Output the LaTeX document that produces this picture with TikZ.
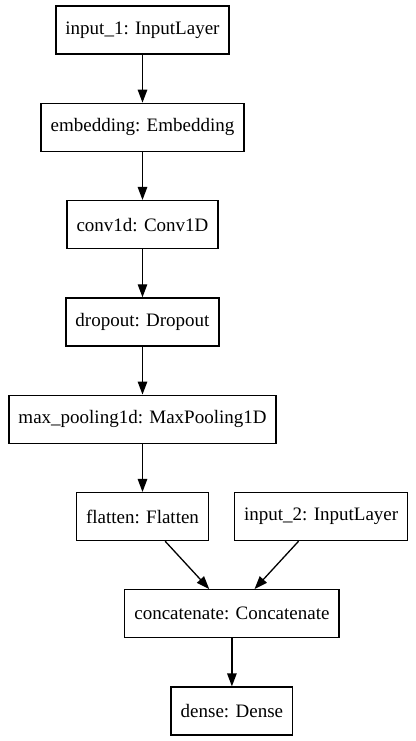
\documentclass[tikz,border=0pt]{standalone}
\usepackage{fontspec}
\setmainfont{Liberation Serif}
\usetikzlibrary{arrows.meta}
\begin{document}
\begin{tikzpicture}[x=1pt,y=-1pt,line join=miter,line width=1.3pt,>={Triangle[length=13pt,width=9.5pt]},
	layer/.style={draw,rectangle,minimum height=48pt,inner xsep=9.6pt,font=\fontsize{19}{22}\selectfont}]
			\useasboundingbox (0,0) rectangle (415,741);
			\node[layer] (in1) at (142.5,30) {input\_1: InputLayer};
			\node[layer] (emb) at (142.5,127.3) {embedding: Embedding};
			\node[layer] (conv) at (142.5,224.6) {conv1d: Conv1D};
			\node[layer] (drop) at (142.5,321.9) {dropout: Dropout};
			\node[layer] (pool) at (142.5,419.2) {max\_pooling1d: MaxPooling1D};
			\node[layer] (flat) at (142.5,516.6) {flatten: Flatten};
			\node[layer] (in2) at (321.2,516.6) {input\_2: InputLayer};
			\node[layer] (cat) at (231.9,613.7) {concatenate: Concatenate};
			\node[layer] (dense) at (231.9,711) {dense: Dense};
			\draw[->] (in1)--(emb);
			\draw[->] (emb)--(conv);
			\draw[->] (conv)--(drop);
			\draw[->] (drop)--(pool);
			\draw[->] (pool)--(flat);
			\draw[->] (flat)--(cat);
			\draw[->] (in2)--(cat);
			\draw[->] (cat)--(dense);
		\end{tikzpicture}
\end{document}
